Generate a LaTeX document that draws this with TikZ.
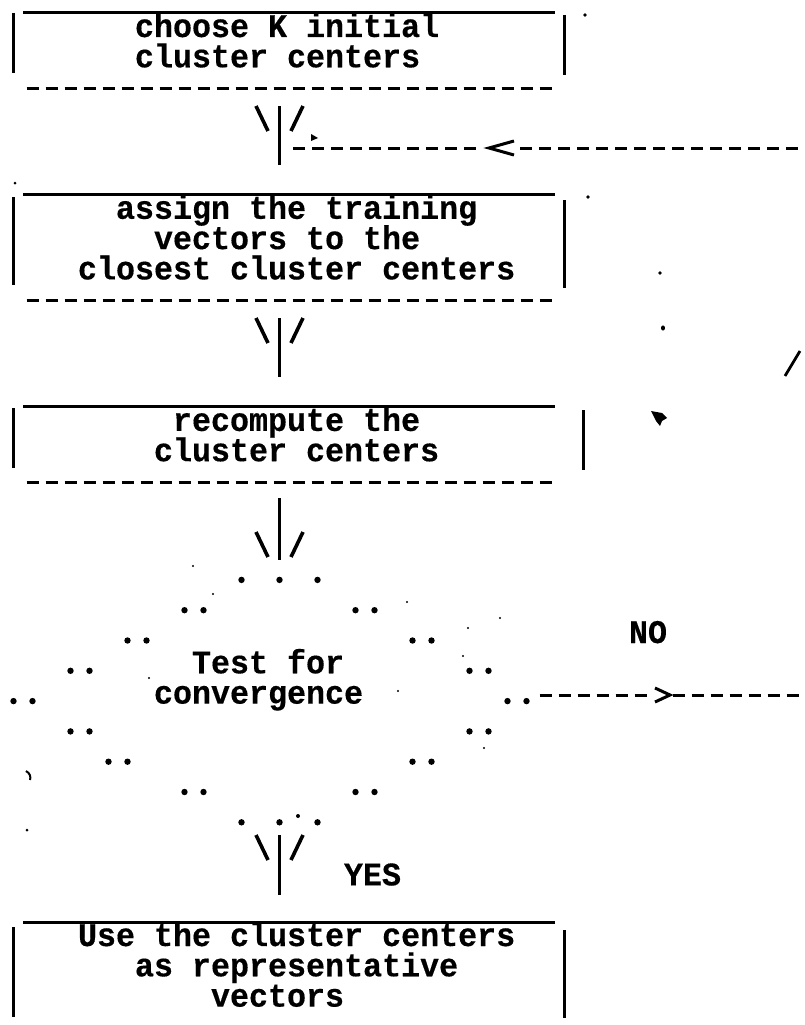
\documentclass[tikz,border=0pt]{standalone}
\usepackage{fontspec}
\newfontfamily\asciitt[FakeStretch=0.96,FakeBold=0.4]{Liberation Mono Bold}
\begin{document}
\begin{tikzpicture}[x=1pt,y=-1pt,
  txt/.style={anchor=base west,inner sep=0pt,outer sep=0pt,
    text height=19pt,text depth=5pt,
    font=\asciitt\fontsize{33pt}{30pt}\selectfont},
  rule/.style={line width=3.4pt},
  bar/.style={line width=3.8pt},
  stem/.style={line width=3.6pt},
  hyph/.style={line width=3pt,dash pattern=on 12pt off 7pt},
  tip/.style={line width=3pt,line join=miter},
  speck/.style={fill=black},
  vee/.pic={\draw[stem] (-23.5,0) -- (-11.5,25); \draw[stem] (11.5,25) -- (23.5,0);}
]
\useasboundingbox (0,0) rectangle (804,1025);

% ---------- box 1: choose K initial cluster centers
\coordinate (b1nw) at (23,12.7);  \coordinate (b1ne) at (555,12.7);
\draw[rule] (b1nw) -- (b1ne);
\draw[bar] (13.5,13) -- (13.5,73);
\draw[bar] (564.5,15) -- (564.5,75);
\node[txt] (b1a) at (135,37)   {choose K initial};
\node[txt] (b1b) at (135,67.3) {cluster centers};
\coordinate (b1sw) at (26.5,88.6); \coordinate (b1se) at (555,88.6);
\draw[hyph] (b1sw) -- (b1se);

% ---------- arrow 1 and the loop back from the test
\coordinate (a1) at (279.5,106); \coordinate (a1end) at (279.5,165);
\draw[stem] (a1) -- (a1end);
\pic at (a1) {vee};
\coordinate (fbin) at (293,148); \coordinate (fbout) at (804,148);
\coordinate (lt) at (489,148);
\draw[hyph] (fbin) -- (477,148);
\draw[tip] (514,141) -- (lt) -- (514,155);
\draw[hyph] (520,148) -- (fbout);

% ---------- box 2: assign the training vectors
\coordinate (b2nw) at (23,194.5); \coordinate (b2ne) at (555,194.5);
\draw[rule] (b2nw) -- (b2ne);
\draw[bar] (13.5,197) -- (13.5,285);
\draw[bar] (564.5,200) -- (564.5,288);
\node[txt] (b2a) at (116,218.8) {assign the training};
\node[txt] (b2b) at (154,249.1) {vectors to the};
\node[txt] (b2c) at (78,279.4)  {closest cluster centers};
\coordinate (b2sw) at (26.5,300.7); \coordinate (b2se) at (555,300.7);
\draw[hyph] (b2sw) -- (b2se);

% ---------- arrow 2
\coordinate (a2) at (279.5,318); \coordinate (a2end) at (279.5,377);
\draw[stem] (a2) -- (a2end);
\pic at (a2) {vee};

% ---------- box 3: recompute the cluster centers
\coordinate (b3nw) at (23,406.6); \coordinate (b3ne) at (555,406.6);
\draw[rule] (b3nw) -- (b3ne);
\draw[bar] (13.5,408) -- (13.5,468);
\draw[bar] (583.5,410) -- (583.5,470);
\node[txt] (b3a) at (173,430.9) {recompute the};
\node[txt] (b3b) at (154,461.2) {cluster centers};
\coordinate (b3sw) at (26.5,482.5); \coordinate (b3se) at (555,482.5);
\draw[hyph] (b3sw) -- (b3se);

% ---------- arrow 3
\coordinate (a3top) at (279.5,498); \coordinate (a3) at (279.5,532);
\coordinate (a3end) at (279.5,560);
\draw[stem] (a3top) -- (a3end);
\pic at (a3) {vee};

% ---------- decision: dotted diamond
\foreach \n/\cols in {18/{8,10,12},19/{5,6,14,15},20/{2,3,17,18},
    21/{-1,0,20,21},22/{-4,-3,22,23},23/{-1,0,20,21},24/{1,2,17,18},
    25/{5,6,14,15},26/{8,10,12}}
  \foreach \c in \cols
    \fill ({89.5+19*\c},{37+30.3*\n-2.5}) circle (3.2pt);
\coordinate (test) at (279.5,688);
\node[txt] (t1) at (192,673.3) {Test for};
\node[txt] (t2) at (154,703.6) {convergence};

% NO branch, running off to the right and back up to the loop
\node[txt] (no) at (629,643) {NO};
\coordinate (noin) at (539.5,695); \coordinate (gt) at (670,695);
\coordinate (noout) at (804,695);
\draw[hyph] (noin) -- (648,695);
\draw[tip] (655,688) -- (gt) -- (655,702);
\draw[hyph] (672.5,695) -- (noout);

% ---------- arrow 4 (YES)
\coordinate (a4) at (279.5,835); \coordinate (a4end) at (279.5,895);
\draw[stem] (a4) -- (a4end);
\pic at (a4) {vee};
\node[txt] (yes) at (344,885.4) {YES};

% ---------- box 4: use the cluster centers
\coordinate (b4nw) at (23,922.7); \coordinate (b4ne) at (555,922.7);
\draw[rule] (b4nw) -- (b4ne);
\draw[bar] (13.5,927) -- (13.5,1017);
\draw[bar] (564.5,930) -- (564.5,1018);
\node[txt] (b4a) at (78,946)    {Use the cluster centers};
\node[txt] (b4b) at (135,976.3) {as representative};
\node[txt] (b4c) at (211,1006.6) {vectors};

% ---------- stray printer marks
\draw[line width=2.8pt] (785,376) -- (800,351);
\fill[speck] (651,411) -- (662,413) -- (667,418) -- (662,421) -- (660,426)
  -- (656,421) -- cycle;
\fill[speck] (585,15) circle (1.8pt);
\fill[speck] (588,197) circle (1.8pt);
\fill[speck] (660,273) circle (1.8pt);
\fill[speck] (663,328) ellipse (2pt and 2.6pt);
\fill[speck] (15,183) circle (1.5pt);
\fill[speck] (27,830) circle (1.5pt);
\fill[speck] (298,816) circle (2pt);
\draw[line width=2pt] (26,771) .. controls (30,773) and (31,777) .. (30,780);
\fill[speck] (311,134) -- (318,138) -- (311,141) -- cycle;
\foreach \p in {(193,566),(213,594),(149,678),(407,602),(398,691),
    (468,628),(463,656),(484,748),(500,618)}
  \fill[speck] \p circle (1.1pt);
\end{tikzpicture}
\end{document}
